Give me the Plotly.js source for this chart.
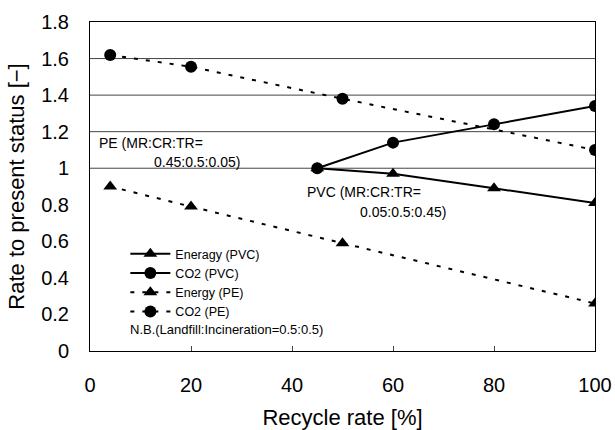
<!DOCTYPE html>
<html>
<head>
<meta charset="utf-8">
<script src="https://cdn.plot.ly/plotly-3.0.1.min.js"></script>
<style>html,body{margin:0;padding:0;background:#fff;}#chart{width:615px;height:430px;}</style>
</head>
<body>
<div id="chart"></div>
<script>
const pvcX = [45, 60, 80, 100];
const pvcEnergy = [1.0, 0.97, 0.89, 0.81];
const pvcCO2 = [1.0, 1.14, 1.24, 1.34];
const peX = [4, 20, 50, 100];
const peEnergy = [0.90, 0.79, 0.59, 0.26];
const peCO2 = [1.62, 1.555, 1.38, 1.10];
const seriesNames = ['Eneragy (PVC)', 'CO2 (PVC)', 'Energy (PE)', 'CO2 (PE)'];
const gridValues = [1.0, 1.2, 1.4, 1.6];
const xTicks = [0, 20, 40, 60, 80, 100];
const yTicks = [0, 0.2, 0.4, 0.6, 0.8, 1, 1.2, 1.4, 1.6, 1.8];
const yTickText = ['0', '0.2', '0.4', '0.6', '0.8', '1', '1.2', '1.4', '1.6', '1.8'];

const FONT = 'Liberation Sans, Arial, sans-serif';
const solid = {color: '#000', width: 2};
const dashed = {color: '#000', width: 2, dash: '4px,8px'};

const traces = [
  {x: pvcX, y: pvcEnergy, name: seriesNames[0], mode: 'lines+markers', line: solid,
   marker: {symbol: 'triangle-up', size: 12, color: '#000'}},
  {x: pvcX, y: pvcCO2, name: seriesNames[1], mode: 'lines+markers', line: solid,
   marker: {symbol: 'circle', size: 12, color: '#000'}},
  {x: peX, y: peEnergy, name: seriesNames[2], mode: 'lines+markers', line: dashed,
   marker: {symbol: 'triangle-up', size: 12, color: '#000'}},
  {x: peX, y: peCO2, name: seriesNames[3], mode: 'lines+markers', line: dashed,
   marker: {symbol: 'circle', size: 12, color: '#000'}}
];

const shapes = gridValues.map(v => ({
  type: 'line', xref: 'paper', x0: 0, x1: 1, yref: 'y', y0: v, y1: v,
  line: {color: '#444', width: 1}, layer: 'below'
}));

const layout = {
  width: 615, height: 430,
  margin: {l: 90, r: 20, t: 22, b: 79},
  paper_bgcolor: '#fff', plot_bgcolor: '#fff',
  font: {family: FONT, color: '#000'},
  showlegend: true,
  legend: {x: 0.07, y: 0.34, xanchor: 'left', yanchor: 'top', bgcolor: 'rgba(0,0,0,0)',
    font: {size: 12.5, family: FONT}, tracegroupgap: 0, itemwidth: 40},
  xaxis: {
    range: [0, 100], tickvals: xTicks, ticks: 'inside', ticklen: 5, showgrid: false,
    zeroline: false, showline: true, linecolor: '#000', linewidth: 1, mirror: true,
    tickfont: {size: 20, family: FONT}, ticklabelstandoff: 16,
    title: {text: 'Recycle rate [%]', font: {size: 22, family: FONT}, standoff: 14}
  },
  yaxis: {
    range: [0, 1.8], tickvals: yTicks, ticktext: yTickText, ticks: '', showgrid: false,
    zeroline: false, showline: true, linecolor: '#000', linewidth: 1, mirror: true,
    tickfont: {size: 20, family: FONT}, ticklabelstandoff: 16,
    title: {text: 'Rate to present status [−]', font: {size: 22, family: FONT}, standoff: 10}
  },
  shapes: shapes,
  annotations: [
    {xref: 'x', yref: 'y', x: 1.4, y: 1.138, text: 'PE (MR:CR:TR=', showarrow: false,
     xanchor: 'left', font: {size: 14, family: FONT}},
    {xref: 'x', yref: 'y', x: 12.3, y: 1.034, text: '0.45:0.5:0.05)', showarrow: false,
     xanchor: 'left', font: {size: 14, family: FONT}},
    {xref: 'x', yref: 'y', x: 42.6, y: 0.87, text: 'PVC (MR:CR:TR=', showarrow: false,
     xanchor: 'left', font: {size: 14, family: FONT}},
    {xref: 'x', yref: 'y', x: 53.1, y: 0.76, text: '0.05:0.5:0.45)', showarrow: false,
     xanchor: 'left', font: {size: 14, family: FONT}},
    {xref: 'x', yref: 'y', x: 7.5, y: 0.12, text: 'N.B.(Landfill:Incineration=0.5:0.5)', showarrow: false,
     xanchor: 'left', font: {size: 13, family: FONT}}
  ]
};

Plotly.newPlot('chart', traces, layout, {staticPlot: true, displayModeBar: false});
</script>
</body>
</html>
